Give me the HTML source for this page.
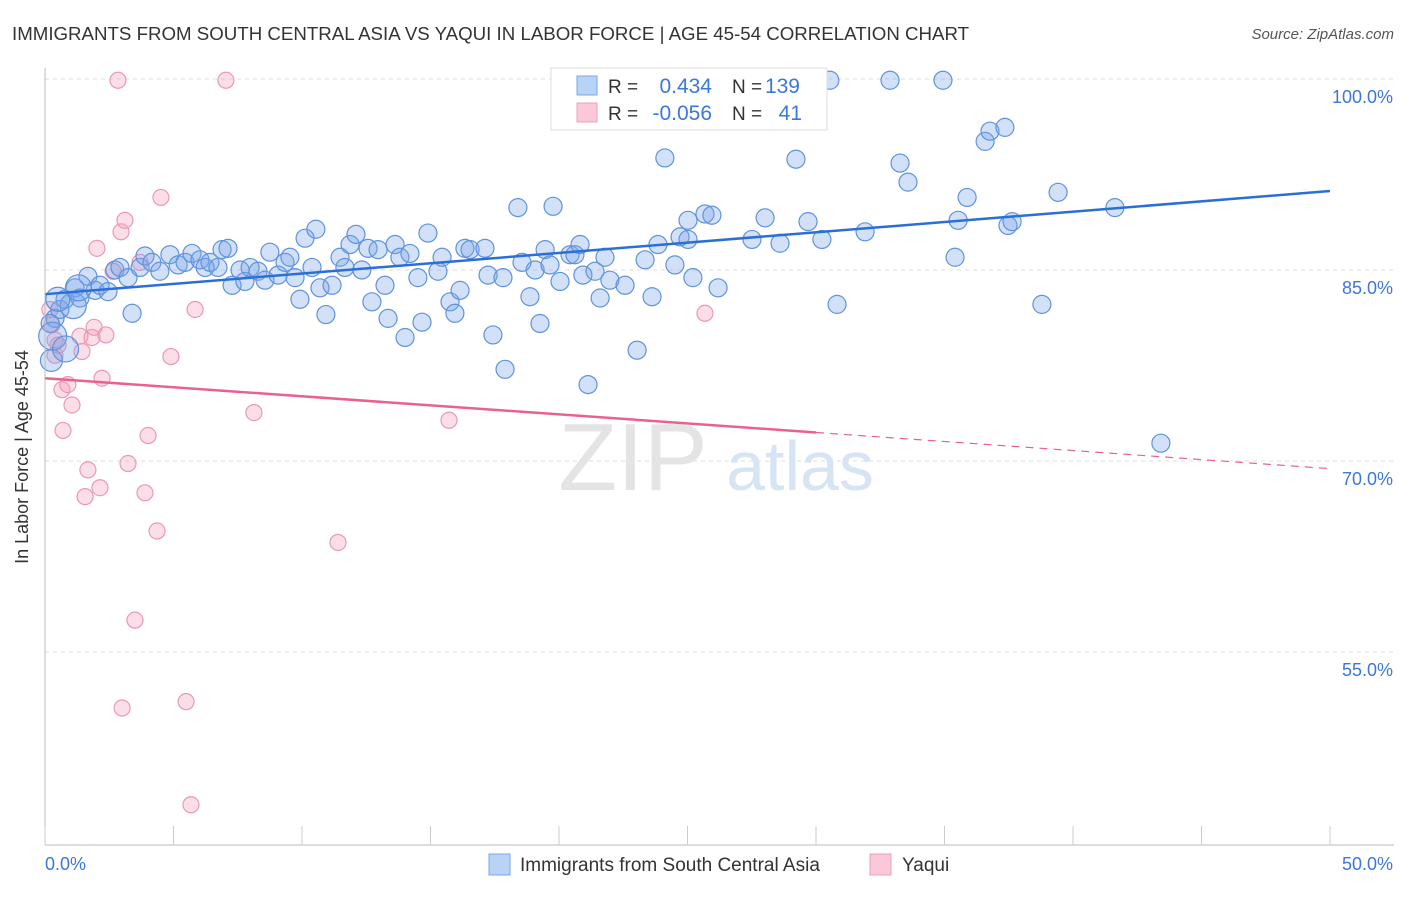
<!DOCTYPE html>
<html><head><meta charset="utf-8"><style>
body{margin:0;background:#fff;font-family:"Liberation Sans",sans-serif}
svg text{font-family:"Liberation Sans",sans-serif}
</style></head><body>
<svg width="1406" height="892" viewBox="0 0 1406 892">
<text x="12" y="40" font-size="18.7" fill="#333">IMMIGRANTS FROM SOUTH CENTRAL ASIA VS YAQUI IN LABOR FORCE | AGE 45-54 CORRELATION CHART</text>
<text x="1394" y="39" font-size="15" fill="#555" text-anchor="end" font-style="italic">Source: ZipAtlas.com</text>
<g id="grid"></g>
<g><text x="633" y="490" font-size="96" fill="#e4e4e4" font-family="Liberation Serif" text-anchor="middle">ZIP</text><text x="800" y="490" font-size="70" fill="#d6e4f5" text-anchor="middle">atlas</text></g>
<g id="pts-pink"></g>
<g id="pts-blue"></g>
<g id="trends"></g>
<g id="axes"></g>
<text x="28" y="457" font-size="18" fill="#333" text-anchor="middle" transform="rotate(-90 28 457)">In Labor Force | Age 45-54</text>
<g>
<rect x="551" y="68" width="276" height="62" fill="#fff" stroke="#ddd"/>
<rect x="577" y="76" width="20" height="19" fill="#b8d3f5" stroke="#7aa7e6"/>
<rect x="577" y="103" width="20" height="19" fill="#fac8d6" stroke="#eea0b8"/>
<text x="608" y="93" font-size="19" fill="#333">R =</text><text x="712" y="93" font-size="21" fill="#3b78d8" text-anchor="end">0.434</text>
<text x="732" y="93" font-size="19" fill="#333">N =</text><text x="800" y="93" font-size="21" fill="#3b78d8" text-anchor="end">139</text>
<text x="608" y="120" font-size="19" fill="#333">R =</text><text x="712" y="120" font-size="21" fill="#3b78d8" text-anchor="end">-0.056</text>
<text x="732" y="120" font-size="19" fill="#333">N =</text><text x="802" y="120" font-size="21" fill="#3b78d8" text-anchor="end">41</text>
</g>
<g>
<rect x="489" y="854" width="21" height="21" fill="#b8d3f5" stroke="#7aa7e6"/>
<text x="520" y="871" font-size="19" fill="#333">Immigrants from South Central Asia</text>
<rect x="870" y="854" width="21" height="21" fill="#fac8d6" stroke="#eea0b8"/>
<text x="902" y="871" font-size="19" fill="#333">Yaqui</text>
</g>
</svg>
<script>
const yTicks=[100,85,70,55];
const yTickLabels=["100.0%","85.0%","70.0%","55.0%"];
const xTickVals=[0,5,10,15,20,25,30,35,40,45,50];
const blueX=[0.39,0.58,0.78,1.17,1.36,1.67,1.95,2.14,2.45,2.72,2.92,3.23,3.39,3.70,3.89,4.16,4.47,4.86,5.18,5.45,5.72,6.03,6.23,6.42,6.73,6.89,7.12,7.28,7.59,7.78,7.98,8.29,8.56,8.75,9.07,9.34,9.53,9.73,9.92,10.12,10.39,10.54,10.70,10.93,11.17,11.48,11.67,11.87,12.10,12.33,12.57,12.72,12.96,13.23,13.35,13.62,13.81,14.20,14.51,14.67,14.90,14.01,15.29,15.45,15.76,15.95,16.15,16.34,16.54,17.12,17.24,17.43,17.82,17.90,18.40,18.56,18.87,19.07,19.26,19.46,19.65,19.77,20.04,20.43,20.62,20.82,20.93,21.13,21.40,21.60,21.79,21.98,22.57,23.04,23.35,23.62,23.85,24.12,24.51,24.71,25.02,25.02,25.21,25.68,25.95,26.19,27.51,28.02,28.60,29.22,29.69,30.23,30.54,30.82,31.91,32.88,33.27,33.58,34.94,35.41,35.53,35.88,36.58,36.77,37.35,37.47,37.63,38.79,39.42,41.63,43.42,0.2,0.3,1.1,0.5,1.3,0.25,0.8];
const blueY=[81.2,81.9,82.7,83.6,82.8,84.5,83.4,83.8,83.3,85.0,85.2,84.4,81.6,85.2,86.1,85.6,84.9,86.2,85.4,85.6,86.3,85.8,85.2,85.6,85.2,86.6,86.7,83.8,85.0,84.1,85.2,84.9,84.2,86.4,84.6,85.6,86.0,84.4,82.7,87.5,85.2,88.2,83.6,81.5,83.8,86.0,85.2,87.0,87.8,85.0,86.7,82.5,86.6,83.8,81.2,87.0,86.0,86.3,84.4,80.9,87.9,79.7,84.9,86.0,82.5,81.6,83.4,86.7,86.6,86.7,84.6,79.9,84.4,77.2,89.9,85.6,82.9,85.0,80.8,86.6,85.4,90.0,84.1,86.2,86.2,87.0,84.6,76.0,84.9,82.8,86.0,84.2,83.8,78.7,85.8,82.9,87.0,93.8,85.4,87.6,87.4,88.9,84.4,89.4,89.3,83.6,87.4,89.1,87.1,93.7,88.8,87.4,99.9,82.3,88.0,99.9,93.4,91.9,99.9,86.0,88.9,90.7,95.1,95.9,96.2,88.5,88.8,82.3,91.1,89.9,71.4,80.8,79.8,82.2,82.7,83.6,77.9,78.8];
const blueR=[9,9,9,9,9,9,9,9,9,9,9,9,9,9,9,9,9,9,9,9,9,9,9,9,9,9,9,9,9,9,9,9,9,9,9,9,9,9,9,9,9,9,9,9,9,9,9,9,9,9,9,9,9,9,9,9,9,9,9,9,9,9,9,9,9,9,9,9,9,9,9,9,9,9,9,9,9,9,9,9,9,9,9,9,9,9,9,9,9,9,9,9,9,9,9,9,9,9,9,9,9,9,9,9,9,9,9,9,9,9,9,9,9,9,9,9,9,9,9,9,9,9,9,9,9,9,9,9,9,9,9,9,14,13,12,13,11,13,12];
const pinkX=[0.19,0.27,0.39,0.51,0.39,0.66,0.70,0.89,1.05,1.36,1.44,1.67,1.56,1.83,1.91,2.02,2.14,2.22,2.37,2.65,2.84,2.96,3.11,3.00,3.23,3.50,3.70,3.89,4.01,4.36,4.51,4.90,5.49,5.68,5.84,7.04,8.13,11.40,15.72,25.68];
const pinkY=[81.9,80.7,79.5,79.1,78.3,75.6,72.4,76.0,74.4,79.8,78.6,69.3,67.2,79.7,80.5,86.7,67.9,76.5,79.9,84.9,99.9,88.0,88.9,50.6,69.8,57.5,85.6,67.5,72.0,64.5,90.7,78.2,51.1,43.0,81.9,99.9,73.8,63.6,73.2,81.6];
const blueTrend=[83.1,91.2];
const pinkTrend=[76.5,69.4];
const pinkSolidEnd=30;
const NS="http://www.w3.org/2000/svg";
const X0=45,X1=1330;
function xs(v){return X0+(X1-X0)*v/50;}
function ys(v){return 79+(100-v)*12.733;}
function mk(t,a,p){const e=document.createElementNS(NS,t);for(const k in a)e.setAttribute(k,a[k]);p.appendChild(e);return e;}
const grid=document.getElementById('grid');
yTicks.forEach((v,i)=>{
 const l=mk('line',{x1:X0,x2:1394,y1:ys(v),y2:ys(v),stroke:'#dcdcdc','stroke-dasharray':'4,4'},grid);
 
 
 const t=mk('text',{x:1393,y:ys(v)+24,'font-size':18,fill:'#3b78d8','text-anchor':'end'},grid);
 t.textContent=yTickLabels[i];
 
 
});
const axes=document.getElementById('axes');
mk('line',{x1:X0,x2:X0,y1:68,y2:845,stroke:'#bbb'},axes);
mk('line',{x1:X0,x2:1394,y1:845,y2:845,stroke:'#bbb'},axes);
xTickVals.forEach(v=>{const t=mk('line',{x1:xs(v),x2:xs(v),y1:826,y2:845,stroke:'#ccc'},axes);
 
 });
let t0=mk('text',{x:45,y:870,'font-size':18,fill:'#3b78d8'},axes);t0.textContent='0.0%';


let t1=mk('text',{x:1393,y:870,'font-size':18,fill:'#3b78d8','text-anchor':'end'},axes);t1.textContent='50.0%';


const pp=document.getElementById('pts-pink');
pinkX.forEach((x,i)=>{const c=mk('circle',{cx:xs(x),cy:ys(pinkY[i]),r:8,fill:'rgba(244,160,188,0.35)',stroke:'#ea98b4','stroke-width':1.2},pp);
 
 });
const bp=document.getElementById('pts-blue');
blueX.forEach((x,i)=>{const c=mk('circle',{cx:xs(x),cy:ys(blueY[i]),r:blueR[i],fill:'rgba(120,165,235,0.33)',stroke:'#5e93dd','stroke-width':1.2},bp);
 
 });
const tr=document.getElementById('trends');
let bl=mk('line',{x1:xs(0),y1:ys(blueTrend[0]),x2:xs(50),y2:ys(blueTrend[1]),stroke:'#2a6fd6','stroke-width':2.5},tr);


const pm=pinkTrend[0]+(pinkTrend[1]-pinkTrend[0])*pinkSolidEnd/50;
let pl=mk('line',{x1:xs(0),y1:ys(pinkTrend[0]),x2:xs(pinkSolidEnd),y2:ys(pm),stroke:'#e8628e','stroke-width':2.5},tr);


let pd=mk('line',{x1:xs(pinkSolidEnd),y1:ys(pm),x2:xs(50),y2:ys(pinkTrend[1]),stroke:'#e8628e','stroke-width':1.2,'stroke-dasharray':'8,6'},tr);


</script>
</body></html>
